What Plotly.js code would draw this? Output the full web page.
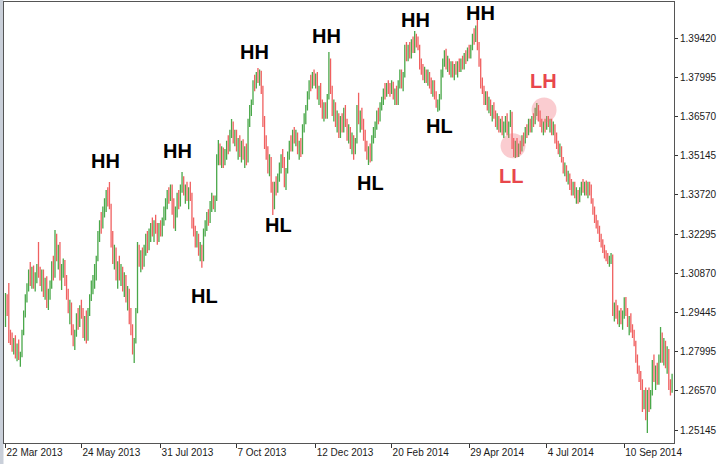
<!DOCTYPE html>
<html>
<head>
<meta charset="utf-8">
<script src="https://cdn.plot.ly/plotly-3.0.1.min.js"></script>
<style>
  html, body { margin: 0; padding: 0; background: #fff; }
  #chart { width: 722px; height: 464px; }
</style>
</head>
<body>
<div id="chart"></div>
<script>
// EURUSD daily bars, one entry per bar (10 per row)
const open = [
  1.2900,1.2990,1.3030,1.2850,1.2840,1.2815,1.2835,1.2790,1.2820,1.2780,
  1.2790,1.2870,1.2940,1.3000,1.3040,1.3085,1.3060,1.3095,1.3045,1.3075,
  1.3110,1.3080,1.3050,1.3090,1.3020,1.3055,1.2985,1.3010,1.3045,1.3120,
  1.3080,1.3220,1.3150,1.3170,1.3080,1.3100,1.3130,1.3060,1.3000,1.2950,
  1.2970,1.2870,1.2840,1.2870,1.2930,1.2900,1.2955,1.2935,1.2870,1.2915,
  1.2850,1.2950,1.3000,1.3040,1.3070,1.3110,1.3140,1.3230,1.3270,1.3260,
  1.3320,1.3340,1.3380,1.3360,1.3330,1.3200,1.3140,1.3170,1.3080,1.3110,
  1.3070,1.3100,1.3040,1.3070,1.3000,1.3020,1.2920,1.2880,1.2810,1.2840,
  1.2950,1.3180,1.3130,1.3160,1.3120,1.3180,1.3220,1.3180,1.3240,1.3260,
  1.3230,1.3270,1.3250,1.3210,1.3260,1.3240,1.3280,1.3320,1.3350,1.3380,
  1.3360,1.3400,1.3320,1.3270,1.3310,1.3370,1.3340,1.3400,1.3420,1.3380,
  1.3390,1.3360,1.3390,1.3370,1.3270,1.3240,1.3200,1.3220,1.3160,1.3180,
  1.3140,1.3240,1.3260,1.3300,1.3280,1.3340,1.3360,1.3330,1.3360,1.3500,
  1.3550,1.3500,1.3530,1.3490,1.3520,1.3560,1.3540,1.3600,1.3620,1.3580,
  1.3600,1.3545,1.3560,1.3520,1.3560,1.3510,1.3540,1.3500,1.3640,1.3690,
  1.3710,1.3780,1.3770,1.3810,1.3800,1.3820,1.3760,1.3640,1.3560,1.3520,
  1.3470,1.3500,1.3400,1.3330,1.3410,1.3390,1.3440,1.3480,1.3500,1.3490,
  1.3420,1.3460,1.3520,1.3560,1.3540,1.3600,1.3580,1.3590,1.3540,1.3560,
  1.3530,1.3620,1.3660,1.3690,1.3740,1.3780,1.3770,1.3810,1.3790,1.3805,
  1.3730,1.3760,1.3700,1.3670,1.3690,1.3660,1.3730,1.3860,1.3760,1.3680,
  1.3700,1.3640,1.3660,1.3600,1.3640,1.3620,1.3680,1.3640,1.3590,1.3610,
  1.3560,1.3580,1.3540,1.3570,1.3690,1.3640,1.3660,1.3620,1.3590,1.3540,
  1.3520,1.3530,1.3500,1.3580,1.3610,1.3630,1.3670,1.3650,1.3700,1.3720,
  1.3750,1.3740,1.3770,1.3760,1.3750,1.3780,1.3730,1.3750,1.3710,1.3780,
  1.3820,1.3780,1.3810,1.3910,1.3880,1.3910,1.3890,1.3930,1.3900,1.3950,
  1.3930,1.3910,1.3840,1.3830,1.3800,1.3820,1.3790,1.3810,1.3780,1.3760,
  1.3780,1.3730,1.3700,1.3710,1.3730,1.3820,1.3860,1.3880,1.3840,1.3860,
  1.3830,1.3850,1.3810,1.3840,1.3820,1.3850,1.3830,1.3860,1.3840,1.3880,
  1.3870,1.3900,1.3880,1.3910,1.3950,1.3940,1.3980,1.3920,1.3860,1.3780,
  1.3760,1.3720,1.3740,1.3690,1.3710,1.3680,1.3690,1.3660,1.3640,1.3650,
  1.3620,1.3640,1.3610,1.3630,1.3650,1.3600,1.3630,1.3670,1.3550,1.3530,
  1.3560,1.3520,1.3550,1.3540,1.3580,1.3570,1.3610,1.3600,1.3640,1.3620,
  1.3650,1.3640,1.3680,1.3690,1.3650,1.3640,1.3610,1.3630,1.3620,1.3650,
  1.3630,1.3640,1.3600,1.3620,1.3570,1.3550,1.3530,1.3540,1.3500,1.3460,
  1.3470,1.3430,1.3440,1.3400,1.3390,1.3410,1.3370,1.3380,1.3350,1.3390,
  1.3410,1.3390,1.3410,1.3380,1.3400,1.3390,1.3350,1.3310,1.3280,1.3260,
  1.3240,1.3210,1.3190,1.3180,1.3150,1.3140,1.3130,1.3140,1.3150,1.2950,
  1.2960,1.2940,1.2920,1.2940,1.2910,1.2930,1.2980,1.2950,1.2900,1.2920,
  1.2880,1.2870,1.2830,1.2770,1.2730,1.2700,1.2680,1.2600,1.2650,1.2570,
  1.2640,1.2600,1.2650,1.2760,1.2700,1.2740,1.2690,1.2780,1.2860,1.2780,
  1.2830,1.2750,1.2800,1.2680,1.2660
];
const high = [
  1.3014,1.3010,1.3051,1.2880,1.2870,1.2850,1.2860,1.2830,1.2845,1.2800,
  1.2880,1.2950,1.3010,1.3050,1.3100,1.3127,1.3110,1.3115,1.3090,1.3120,
  1.3200,1.3110,1.3100,1.3100,1.3070,1.3075,1.3030,1.3060,1.3130,1.3150,
  1.3244,1.3230,1.3190,1.3200,1.3120,1.3140,1.3135,1.3080,1.3030,1.2990,
  1.2980,1.2900,1.2880,1.2940,1.2960,1.2970,1.2990,1.2960,1.2930,1.2950,
  1.2960,1.3010,1.3060,1.3080,1.3120,1.3150,1.3240,1.3280,1.3310,1.3330,
  1.3360,1.3390,1.3400,1.3419,1.3340,1.3240,1.3190,1.3180,1.3130,1.3150,
  1.3120,1.3110,1.3090,1.3080,1.3040,1.3030,1.2960,1.2900,1.2850,1.2960,
  1.3200,1.3190,1.3170,1.3180,1.3190,1.3230,1.3240,1.3250,1.3270,1.3290,
  1.3280,1.3300,1.3270,1.3270,1.3280,1.3290,1.3330,1.3360,1.3390,1.3400,
  1.3410,1.3410,1.3360,1.3330,1.3380,1.3390,1.3410,1.3456,1.3440,1.3410,
  1.3420,1.3400,1.3420,1.3380,1.3290,1.3260,1.3240,1.3230,1.3200,1.3190,
  1.3250,1.3280,1.3310,1.3320,1.3350,1.3380,1.3370,1.3370,1.3520,1.3572,
  1.3560,1.3550,1.3545,1.3540,1.3570,1.3590,1.3610,1.3649,1.3640,1.3610,
  1.3610,1.3580,1.3590,1.3570,1.3575,1.3550,1.3560,1.3650,1.3700,1.3720,
  1.3790,1.3810,1.3820,1.3835,1.3830,1.3825,1.3770,1.3660,1.3590,1.3550,
  1.3520,1.3510,1.3420,1.3420,1.3440,1.3450,1.3490,1.3520,1.3540,1.3510,
  1.3470,1.3530,1.3570,1.3590,1.3610,1.3620,1.3610,1.3600,1.3570,1.3580,
  1.3630,1.3670,1.3700,1.3750,1.3790,1.3810,1.3820,1.3830,1.3815,1.3820,
  1.3770,1.3780,1.3720,1.3710,1.3710,1.3740,1.3893,1.3870,1.3770,1.3720,
  1.3710,1.3680,1.3670,1.3660,1.3670,1.3690,1.3700,1.3650,1.3630,1.3620,
  1.3600,1.3590,1.3580,1.3700,1.3745,1.3680,1.3690,1.3650,1.3610,1.3570,
  1.3550,1.3560,1.3590,1.3620,1.3640,1.3680,1.3690,1.3710,1.3730,1.3760,
  1.3780,1.3780,1.3790,1.3780,1.3790,1.3785,1.3760,1.3770,1.3790,1.3830,
  1.3830,1.3820,1.3920,1.3930,1.3920,1.3930,1.3940,1.3950,1.3970,1.3960,
  1.3950,1.3920,1.3870,1.3850,1.3840,1.3830,1.3830,1.3820,1.3800,1.3790,
  1.3790,1.3750,1.3720,1.3740,1.3830,1.3870,1.3900,1.3905,1.3880,1.3870,
  1.3860,1.3860,1.3850,1.3860,1.3860,1.3870,1.3870,1.3880,1.3890,1.3900,
  1.3910,1.3920,1.3920,1.3960,1.3980,1.3990,1.4010,1.3930,1.3870,1.3800,
  1.3770,1.3750,1.3750,1.3730,1.3720,1.3700,1.3710,1.3680,1.3670,1.3660,
  1.3650,1.3660,1.3640,1.3660,1.3670,1.3640,1.3682,1.3675,1.3580,1.3570,
  1.3580,1.3560,1.3570,1.3590,1.3600,1.3620,1.3630,1.3650,1.3650,1.3660,
  1.3670,1.3690,1.3707,1.3700,1.3680,1.3650,1.3640,1.3650,1.3660,1.3660,
  1.3650,1.3650,1.3640,1.3630,1.3600,1.3570,1.3560,1.3550,1.3510,1.3490,
  1.3480,1.3460,1.3450,1.3430,1.3420,1.3420,1.3400,1.3390,1.3400,1.3420,
  1.3430,1.3420,1.3425,1.3420,1.3420,1.3410,1.3360,1.3330,1.3300,1.3280,
  1.3260,1.3230,1.3210,1.3190,1.3170,1.3160,1.3150,1.3160,1.3155,1.2980,
  1.2990,1.2970,1.2950,1.2960,1.2950,1.2999,1.3000,1.2960,1.2930,1.2940,
  1.2900,1.2880,1.2840,1.2790,1.2750,1.2730,1.2700,1.2660,1.2670,1.2660,
  1.2670,1.2660,1.2770,1.2790,1.2750,1.2760,1.2790,1.2890,1.2870,1.2850,
  1.2840,1.2820,1.2810,1.2700,1.2720
];
const low = [
  1.2890,1.2930,1.2832,1.2825,1.2800,1.2790,1.2775,1.2765,1.2770,1.2745,
  1.2780,1.2860,1.2925,1.2980,1.3020,1.3040,1.3030,1.3030,1.3020,1.3050,
  1.3070,1.3040,1.3020,1.3000,1.2990,1.2960,1.2952,1.2990,1.3030,1.3060,
  1.3070,1.3130,1.3100,1.3060,1.3025,1.3070,1.3040,1.2990,1.2940,1.2900,
  1.2860,1.2820,1.2806,1.2855,1.2880,1.2890,1.2920,1.2850,1.2840,1.2830,
  1.2840,1.2930,1.2985,1.3010,1.3030,1.3060,1.3130,1.3200,1.3230,1.3250,
  1.3290,1.3310,1.3330,1.3320,1.3180,1.3120,1.3100,1.3060,1.3030,1.3060,
  1.3040,1.3020,1.3000,1.2980,1.2950,1.2900,1.2860,1.2790,1.2759,1.2830,
  1.2940,1.3110,1.3090,1.3100,1.3110,1.3150,1.3160,1.3170,1.3200,1.3220,
  1.3200,1.3230,1.3190,1.3200,1.3220,1.3220,1.3260,1.3280,1.3320,1.3340,
  1.3350,1.3300,1.3250,1.3240,1.3290,1.3320,1.3330,1.3380,1.3370,1.3340,
  1.3350,1.3320,1.3350,1.3250,1.3220,1.3180,1.3180,1.3150,1.3130,1.3106,
  1.3130,1.3220,1.3240,1.3260,1.3270,1.3310,1.3320,1.3310,1.3350,1.3480,
  1.3480,1.3470,1.3470,1.3480,1.3500,1.3520,1.3530,1.3580,1.3560,1.3550,
  1.3530,1.3500,1.3510,1.3490,1.3500,1.3470,1.3480,1.3490,1.3620,1.3660,
  1.3700,1.3750,1.3760,1.3780,1.3770,1.3740,1.3620,1.3540,1.3500,1.3450,
  1.3440,1.3380,1.3299,1.3320,1.3370,1.3380,1.3420,1.3450,1.3470,1.3400,
  1.3390,1.3450,1.3500,1.3530,1.3530,1.3560,1.3550,1.3520,1.3500,1.3510,
  1.3520,1.3600,1.3630,1.3680,1.3720,1.3750,1.3760,1.3770,1.3760,1.3720,
  1.3700,1.3690,1.3650,1.3640,1.3650,1.3650,1.3720,1.3740,1.3660,1.3640,
  1.3620,1.3600,1.3580,1.3580,1.3600,1.3600,1.3620,1.3570,1.3560,1.3540,
  1.3520,1.3500,1.3520,1.3560,1.3630,1.3600,1.3610,1.3570,1.3530,1.3500,
  1.3481,1.3490,1.3495,1.3560,1.3580,1.3610,1.3630,1.3640,1.3680,1.3700,
  1.3720,1.3730,1.3740,1.3730,1.3740,1.3720,1.3700,1.3700,1.3700,1.3760,
  1.3760,1.3750,1.3800,1.3860,1.3860,1.3870,1.3870,1.3890,1.3890,1.3910,
  1.3900,1.3830,1.3810,1.3790,1.3780,1.3780,1.3770,1.3760,1.3740,1.3730,
  1.3720,1.3690,1.3675,1.3680,1.3720,1.3800,1.3840,1.3830,1.3820,1.3810,
  1.3800,1.3800,1.3790,1.3810,1.3800,1.3820,1.3820,1.3830,1.3830,1.3850,
  1.3860,1.3870,1.3870,1.3900,1.3920,1.3930,1.3900,1.3840,1.3760,1.3740,
  1.3700,1.3700,1.3680,1.3670,1.3660,1.3640,1.3650,1.3620,1.3610,1.3600,
  1.3600,1.3590,1.3580,1.3600,1.3590,1.3580,1.3620,1.3540,1.3510,1.3507,
  1.3510,1.3510,1.3520,1.3530,1.3550,1.3560,1.3580,1.3590,1.3600,1.3600,
  1.3620,1.3630,1.3660,1.3640,1.3620,1.3600,1.3590,1.3600,1.3610,1.3620,
  1.3600,1.3590,1.3590,1.3560,1.3540,1.3520,1.3510,1.3490,1.3450,1.3440,
  1.3420,1.3410,1.3390,1.3370,1.3370,1.3360,1.3340,1.3340,1.3345,1.3370,
  1.3380,1.3370,1.3370,1.3360,1.3370,1.3340,1.3300,1.3270,1.3250,1.3230,
  1.3200,1.3180,1.3160,1.3140,1.3130,1.3120,1.3110,1.3120,1.2930,1.2910,
  1.2920,1.2900,1.2890,1.2900,1.2880,1.2920,1.2930,1.2890,1.2860,1.2870,
  1.2850,1.2820,1.2760,1.2720,1.2690,1.2660,1.2580,1.2590,1.2550,1.2504,
  1.2580,1.2590,1.2640,1.2690,1.2660,1.2680,1.2680,1.2760,1.2760,1.2750,
  1.2740,1.2720,1.2660,1.2640,1.2650
];
const close = [
  1.2990,1.2960,1.2850,1.2840,1.2815,1.2835,1.2790,1.2820,1.2780,1.2790,
  1.2870,1.2940,1.3000,1.3040,1.3085,1.3060,1.3095,1.3045,1.3075,1.3110,
  1.3080,1.3050,1.3090,1.3020,1.3055,1.2985,1.3010,1.3045,1.3120,1.3080,
  1.3220,1.3150,1.3170,1.3080,1.3100,1.3130,1.3060,1.3000,1.2950,1.2970,
  1.2870,1.2840,1.2870,1.2930,1.2900,1.2955,1.2935,1.2870,1.2915,1.2850,
  1.2950,1.3000,1.3040,1.3070,1.3110,1.3140,1.3230,1.3270,1.3260,1.3320,
  1.3340,1.3380,1.3360,1.3330,1.3200,1.3140,1.3170,1.3080,1.3110,1.3070,
  1.3100,1.3040,1.3070,1.3000,1.3020,1.2920,1.2880,1.2810,1.2840,1.2950,
  1.3180,1.3130,1.3160,1.3120,1.3180,1.3220,1.3180,1.3240,1.3260,1.3230,
  1.3270,1.3250,1.3210,1.3260,1.3240,1.3280,1.3320,1.3350,1.3380,1.3360,
  1.3400,1.3320,1.3270,1.3310,1.3370,1.3340,1.3400,1.3420,1.3380,1.3390,
  1.3360,1.3390,1.3370,1.3270,1.3240,1.3200,1.3220,1.3160,1.3180,1.3140,
  1.3240,1.3260,1.3300,1.3280,1.3340,1.3360,1.3330,1.3360,1.3500,1.3550,
  1.3500,1.3530,1.3490,1.3520,1.3560,1.3540,1.3600,1.3620,1.3580,1.3600,
  1.3545,1.3560,1.3520,1.3560,1.3510,1.3540,1.3500,1.3640,1.3690,1.3710,
  1.3780,1.3770,1.3810,1.3800,1.3820,1.3760,1.3640,1.3560,1.3520,1.3470,
  1.3500,1.3400,1.3330,1.3410,1.3390,1.3440,1.3480,1.3500,1.3490,1.3420,
  1.3460,1.3520,1.3560,1.3540,1.3600,1.3580,1.3590,1.3540,1.3560,1.3530,
  1.3620,1.3660,1.3690,1.3740,1.3780,1.3770,1.3810,1.3790,1.3805,1.3730,
  1.3760,1.3700,1.3670,1.3690,1.3660,1.3730,1.3860,1.3760,1.3680,1.3700,
  1.3640,1.3660,1.3600,1.3640,1.3620,1.3680,1.3640,1.3590,1.3610,1.3560,
  1.3580,1.3540,1.3570,1.3690,1.3640,1.3660,1.3620,1.3590,1.3540,1.3520,
  1.3530,1.3500,1.3580,1.3610,1.3630,1.3670,1.3650,1.3700,1.3720,1.3750,
  1.3740,1.3770,1.3760,1.3750,1.3780,1.3730,1.3750,1.3710,1.3780,1.3820,
  1.3780,1.3810,1.3910,1.3880,1.3910,1.3890,1.3930,1.3900,1.3950,1.3930,
  1.3910,1.3840,1.3830,1.3800,1.3820,1.3790,1.3810,1.3780,1.3760,1.3780,
  1.3730,1.3700,1.3710,1.3730,1.3820,1.3860,1.3880,1.3840,1.3860,1.3830,
  1.3850,1.3810,1.3840,1.3820,1.3850,1.3830,1.3860,1.3840,1.3880,1.3870,
  1.3900,1.3880,1.3910,1.3950,1.3940,1.3980,1.3920,1.3860,1.3780,1.3760,
  1.3720,1.3740,1.3690,1.3710,1.3680,1.3690,1.3660,1.3640,1.3650,1.3620,
  1.3640,1.3610,1.3630,1.3650,1.3600,1.3620,1.3670,1.3550,1.3530,1.3560,
  1.3520,1.3550,1.3540,1.3580,1.3570,1.3610,1.3600,1.3640,1.3620,1.3650,
  1.3640,1.3680,1.3690,1.3650,1.3640,1.3610,1.3630,1.3620,1.3650,1.3630,
  1.3640,1.3600,1.3620,1.3570,1.3550,1.3530,1.3540,1.3500,1.3460,1.3470,
  1.3430,1.3440,1.3400,1.3390,1.3410,1.3370,1.3380,1.3350,1.3390,1.3410,
  1.3390,1.3410,1.3380,1.3400,1.3390,1.3350,1.3310,1.3280,1.3260,1.3240,
  1.3210,1.3190,1.3180,1.3150,1.3140,1.3130,1.3140,1.3150,1.2950,1.2960,
  1.2940,1.2920,1.2940,1.2910,1.2930,1.2980,1.2950,1.2900,1.2920,1.2880,
  1.2870,1.2830,1.2770,1.2730,1.2700,1.2680,1.2600,1.2650,1.2570,1.2640,
  1.2600,1.2650,1.2760,1.2700,1.2740,1.2690,1.2780,1.2860,1.2780,1.2830,
  1.2750,1.2800,1.2680,1.2660,1.2710
];

// time axis: bar number of each label
const dateTickBars = [0, 46, 94, 140, 188, 234, 281, 328, 375];
const dateTickText = ['22 Mar 2013', '24 May 2013', '31 Jul 2013', '7 Oct 2013',
  '12 Dec 2013', '20 Feb 2014', '29 Apr 2014', '4 Jul 2014', '10 Sep 2014'];

const priceTicks = [1.39420, 1.37995, 1.36570, 1.35145, 1.33720, 1.32295,
  1.30870, 1.29445, 1.27995, 1.26570, 1.25145];

// swing labels (bar number, price of the text centre)
const swingText = ['HH', 'HH', 'HL', 'HH', 'HL', 'HH', 'HL', 'HH', 'HL', 'HH', 'LL', 'LH'];
const swingBar = [60.9, 104.5, 120.9, 151.2, 165.2, 194.8, 221.5, 248.2, 263.3, 287.6, 306.4, 325.8];
const swingPrice = [1.3496, 1.3532, 1.3003, 1.3893, 1.3262, 1.3950, 1.3416, 1.4010,
  1.3624, 1.4036, 1.3441, 1.3788];

// highlighted lower low / lower high
const markBar = [307.6, 326.4];
const markPrice = [1.3551, 1.3682];

const bars = open.map((_, i) => i);

const trace = {
  type: 'ohlc',
  x: bars,
  open: open,
  high: high,
  low: low,
  close: close,
  tickwidth: 0.25,
  increasing: {line: {color: '#4aa84a', width: 1.3}},
  decreasing: {line: {color: '#f06060', width: 1.3}},
  hoverinfo: 'skip'
};

const axisFont = {family: 'Liberation Sans, Arial, sans-serif', size: 10, color: '#1a1a1a'};

const annotations = swingText.map((t, i) => ({
  x: swingBar[i],
  y: swingPrice[i],
  xref: 'x',
  yref: 'y',
  text: t,
  showarrow: false,
  xanchor: 'center',
  yanchor: 'middle',
  font: {
    family: 'Liberation Sans, Arial, sans-serif',
    size: 20,
    weight: 'bold',
    color: (t === 'LL' || t === 'LH') ? '#e8474c' : '#000000'
  }
}));

const shapes = markBar.map((b, i) => ({
  type: 'circle',
  xref: 'x',
  yref: 'y',
  xsizemode: 'pixel',
  ysizemode: 'pixel',
  xanchor: b,
  yanchor: markPrice[i],
  x0: -12.5, x1: 12.5,
  y0: -12.5, y1: 12.5,
  fillcolor: 'rgba(240,110,120,0.35)',
  line: {width: 0},
  layer: 'above'
}));

// grey window strip on the left edge
shapes.push({
  type: 'rect',
  xref: 'paper',
  yref: 'paper',
  x0: -4 / 670, x1: -0.5 / 670,
  y0: -0.05, y1: 1.01,
  fillcolor: '#c9cfd9',
  line: {width: 0},
  layer: 'below'
});

const layout = {
  width: 722,
  height: 464,
  margin: {l: 4, r: 48, t: 2, b: 21},
  paper_bgcolor: '#ffffff',
  plot_bgcolor: '#ffffff',
  showlegend: false,
  xaxis: {
    type: 'linear',
    range: [-0.91, 405.15],
    tickvals: dateTickBars,
    ticktext: dateTickText,
    ticks: 'outside',
    ticklen: 4,
    tickcolor: '#333',
    ticklabelposition: 'outside right',
    tickfont: axisFont,
    showgrid: false,
    zeroline: false,
    showline: true,
    linecolor: '#555',
    linewidth: 1,
    mirror: true,
    rangeslider: {visible: false},
    fixedrange: true
  },
  yaxis: {
    side: 'right',
    range: [1.24671, 1.40758],
    tickvals: priceTicks,
    ticktext: priceTicks.map(v => v.toFixed(5)),
    ticks: 'outside',
    ticklen: 3,
    tickcolor: '#333',
    tickfont: axisFont,
    showgrid: false,
    zeroline: false,
    showline: true,
    linecolor: '#555',
    linewidth: 1,
    mirror: true,
    fixedrange: true
  },
  annotations: annotations,
  shapes: shapes
};

Plotly.newPlot('chart', [trace], layout, {displayModeBar: false, staticPlot: true});
</script>
</body>
</html>
